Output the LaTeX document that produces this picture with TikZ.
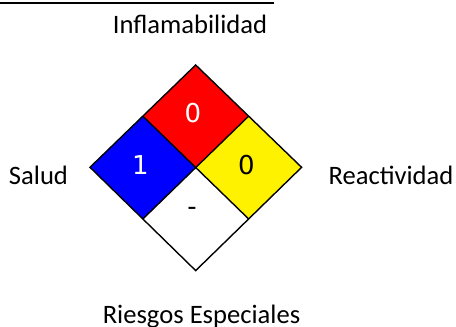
\documentclass[tikz,border=0pt]{standalone}
\usepackage{fontspec}
\setmainfont{Carlito}
\newfontfamily\numfont{DejaVu Sans}
\usetikzlibrary{calc}
\begin{document}
\begin{tikzpicture}[x=1pt,y=-1pt,
  lbl/.style={font=\fontsize{26.6}{29}\selectfont, anchor=base, inner sep=0pt},
  num/.style={font=\numfont\fontsize{26}{28}\selectfont, inner sep=0pt},
  quad/.style={draw=black, line width=1.4pt, line join=miter}]
\useasboundingbox (0,0) rectangle (456,327);
% cut-off title underline
\draw[line width=1.8pt] (0,2.6) -- (274,2.6);
% diamond corners
\coordinate (T) at (195.7,65);
\coordinate (L) at (90,167.3);
\coordinate (R) at (301.6,167.3);
\coordinate (B) at (195.7,270.6);
\coordinate (C) at (195.7,167.3);
\coordinate (TL) at ($(T)!0.5!(L)$);
\coordinate (TR) at ($(T)!0.5!(R)$);
\coordinate (BL) at ($(B)!0.5!(L)$);
\coordinate (BR) at ($(B)!0.5!(R)$);
\fill[red] (T) -- (TR) -- (C) -- (TL) -- cycle;
\fill[blue] (TL) -- (C) -- (BL) -- (L) -- cycle;
\fill[yellow] (TR) -- (R) -- (BR) -- (C) -- cycle;
\fill[white] (C) -- (BR) -- (B) -- (BL) -- cycle;
\draw[quad] (T) -- (R) -- (B) -- (L) -- cycle;
\draw[quad] (TL) -- (BR);
\draw[quad] (TR) -- (BL);
% numbers
\node[num, text=white] (fl) at (192.8,113.3) {0};
\node[num, text=white] (sa) at (140.5,165.2) {1};
\node[num, text=black] (re) at (246.3,165.5) {0};
\node[num, text=black] (es) at (192,211) {-};
% labels
\node[lbl] (inf) at (190,33) {Inflamabilidad};
\node[lbl] (sal) at (38.5,184) {Salud};
\node[lbl] (rea) at (391,184) {Reactividad};
\node[lbl] (rie) at (201.5,323) {Riesgos Especiales};
\end{tikzpicture}
\end{document}
